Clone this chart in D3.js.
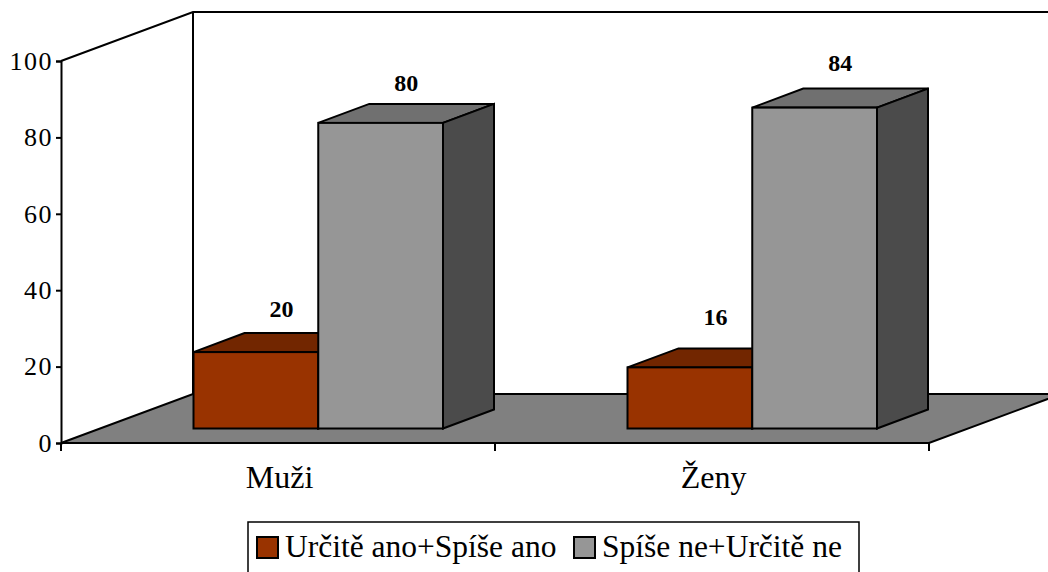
<!DOCTYPE html>
<html>
<head>
<meta charset="utf-8">
<script src="https://cdn.jsdelivr.net/npm/d3@7"></script>
<style>
  html, body { margin: 0; padding: 0; background: #fff; }
  svg { display: block; }
  text { font-family: 'Liberation Serif', serif; fill: #000; }
</style>
</head>
<body>
<svg id="chart" width="1048" height="572"></svg>
<script>
const categories = ['Muži', 'Ženy'];
const series_names = ['Určitě ano+Spíše ano', 'Spíše ne+Určitě ne'];
const values_ano = [20, 16];
const values_ne = [80, 84];
const y_ticks = [0, 20, 40, 60, 80, 100];

const colors = [
  { front: '#993300', top: '#722600', side: '#4d1a00' },
  { front: '#969696', top: '#707070', side: '#4b4b4b' },
];
// the labels do not sit at a constant distance above the bars in the original
const label_shift = { 20: -16, 80: -13, 16: -23, 84: -18 };

const svg = d3.select('svg#chart');
const x_left = 61, x_right = 929, y_bottom = 443, y_top = 61;
// oblique offsets of the 3d box
const wall = { dx: 132, dy: -49 };
const bar_plane = { dx: 40, dy: -14.5 };
const depth = { dx: 51, dy: -19 };

const x = d3.scaleBand().domain(categories).range([x_left, x_right]);
const y = d3.scaleLinear().domain([0, 100]).range([y_bottom, y_top]);
const x_inner = d3.scaleBand().domain([0, 1]).range([92.5, x.bandwidth() - 92]);

const line = d3.line();
const stroke_w = 2;

// floor
svg.append('path')
  .attr('d', line([[x_left, y_bottom], [x_left + wall.dx, y_bottom + wall.dy], [x_right + wall.dx, y_bottom + wall.dy], [x_right, y_bottom]]) + 'Z')
  .attr('fill', '#808080')
  .attr('stroke', '#000')
  .attr('stroke-width', stroke_w);

// walls
svg.append('path')
  .attr('d', line([[x_left, y_top], [x_left + wall.dx, y_top + wall.dy], [1050, y_top + wall.dy]]))
  .attr('fill', 'none')
  .attr('stroke', '#000')
  .attr('stroke-width', stroke_w);
svg.append('line')
  .attr('x1', x_left + wall.dx).attr('x2', x_left + wall.dx)
  .attr('y1', y_top + wall.dy).attr('y2', y_bottom + wall.dy)
  .attr('stroke', '#000')
  .attr('stroke-width', stroke_w);

// axes
const axis_y = svg.append('g')
  .attr('transform', `translate(${x_left},0)`)
  .call(d3.axisLeft(y).tickValues(y_ticks).tickSize(5).tickPadding(3));
const axis_x = svg.append('g')
  .attr('transform', `translate(0,${y_bottom})`)
  .call(d3.axisBottom(x).tickSize(8).tickPadding(14).tickSizeOuter(0));
// ticks go between the categories, not under them
axis_x.selectAll('.tick line')
  .attr('x1', x.bandwidth() / 2)
  .attr('x2', x.bandwidth() / 2);
axis_x.append('line')
  .attr('x1', x_left).attr('x2', x_left).attr('y1', 0).attr('y2', 8);
axis_x.select('.domain').attr('d', `M${x_left},0H${x_right}`);
[axis_y, axis_x].forEach((a) => {
  a.selectAll('path, line').attr('stroke', '#000').attr('stroke-width', stroke_w);
  a.selectAll('text').attr('font-family', "'Liberation Serif', serif").attr('fill', '#000');
});
axis_y.selectAll('text').attr('font-size', 26).attr('letter-spacing', 1.5);
axis_x.selectAll('text').attr('font-size', 32).attr('dx', 1.5);

// bars
const base_y = y(0) + bar_plane.dy;
const bars = [];
categories.forEach((c, i) => {
  [values_ano[i], values_ne[i]].forEach((v, s) => {
    bars.push({ category: c, serie: s, value: v });
  });
});

const bar_g = svg.selectAll('.bar')
  .data(bars)
  .enter()
  .append('g')
  .attr('class', 'bar')
  .attr('stroke', '#000')
  .attr('stroke-width', stroke_w);

const x0 = d => x(d.category) + x_inner(d.serie) + bar_plane.dx;
const x1 = d => x0(d) + x_inner.bandwidth();
const top_y = d => y(d.value) + bar_plane.dy;

bar_g.append('path')
  .attr('fill', d => colors[d.serie].top)
  .attr('d', d => line([[x0(d), top_y(d)], [x0(d) + depth.dx, top_y(d) + depth.dy], [x1(d) + depth.dx, top_y(d) + depth.dy], [x1(d), top_y(d)]]) + 'Z');
bar_g.append('path')
  .attr('fill', d => colors[d.serie].side)
  .attr('d', d => line([[x1(d), top_y(d)], [x1(d) + depth.dx, top_y(d) + depth.dy], [x1(d) + depth.dx, base_y + depth.dy], [x1(d), base_y]]) + 'Z');
bar_g.append('rect')
  .attr('fill', d => colors[d.serie].front)
  .attr('x', x0)
  .attr('y', top_y)
  .attr('width', x_inner.bandwidth())
  .attr('height', d => base_y - top_y(d));

// value labels
svg.selectAll('.value_label')
  .data(bars)
  .enter()
  .append('text')
  .attr('class', 'value_label')
  .attr('x', d => (x0(d) + x1(d) + depth.dx) / 2)
  .attr('y', d => top_y(d) + depth.dy + label_shift[d.value])
  .attr('text-anchor', 'middle')
  .attr('font-size', 24)
  .attr('font-weight', 'bold')
  .text(d => d.value);

// legend
const legend = svg.append('g');
legend.append('path')
  .attr('d', line([[248, 573], [248, 522], [859, 522], [859, 573]]))
  .attr('fill', 'none')
  .attr('stroke', '#000')
  .attr('stroke-width', 1.5);
const legend_x = [257, 574];
const legend_text_x = [285, 602];
series_names.forEach((name, i) => {
  legend.append('rect')
    .attr('x', legend_x[i]).attr('y', 537)
    .attr('width', 21).attr('height', 21)
    .attr('fill', colors[i].front)
    .attr('stroke', '#000')
    .attr('stroke-width', stroke_w);
  legend.append('text')
    .attr('x', legend_text_x[i]).attr('y', 557)
    .attr('font-size', 31.5)
    .text(name);
});
</script>
</body>
</html>
